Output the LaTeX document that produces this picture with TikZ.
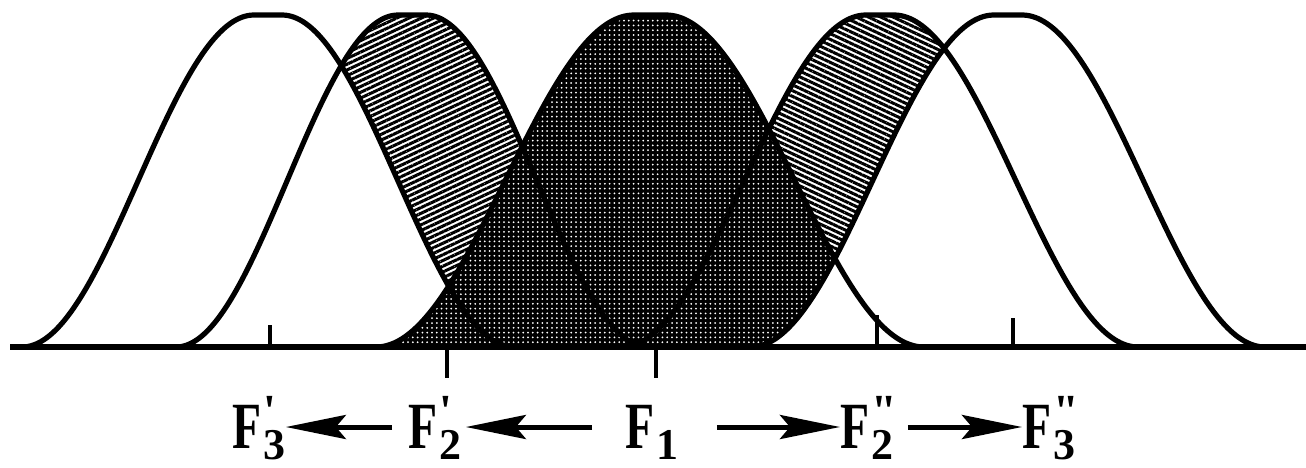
\documentclass[tikz,border=0pt]{standalone}
\usepackage{fontspec}
\usepackage{graphicx}
\setmainfont{Liberation Serif}
\newfontfamily\lblfont{Liberation Serif}[Ligatures=TeXOff]
\usetikzlibrary{patterns.meta,arrows.meta}
% flat-topped raised-cosine bell: centre, half-width, flat half-width (pixel units, y downwards, axis at 347)
\newcommand{\bell}[3]{plot[domain=#1-#2:#1+#2,samples=180] (\x,{347-166*(1+cos(180*(max(0,abs(\x-#1)-#3)/(#2-#3))))})}
\newcommand{\flab}[2]{{\lblfont\bfseries\scalebox{0.72}[1]{\fontsize{33}{33}\selectfont F}\kern1pt\rlap{\raisebox{11pt}{\fontsize{23}{23}\selectfont #1}}\raisebox{-5.5pt}{\fontsize{22}{22}\selectfont #2}}}
\begin{document}
\begin{tikzpicture}[x=0.5pt,y=-0.5pt,
  curve/.style={line width=2.6pt,line join=round},
  hatchL/.style={pattern={Lines[angle=25,distance=2.6pt,line width=1.5pt]}},
  hatchR/.style={pattern={Lines[angle=-25,distance=2.6pt,line width=1.5pt]}},
  darkfill/.style={preaction={fill=black},pattern={Dots[distance=2.4pt,radius=0.5pt]},pattern color=white},
  lbl/.style={anchor=base west,inner sep=0pt,text height=21pt,text depth=0pt},
  arr/.style={line width=2.5pt,-{Stealth[length=30pt,width=12pt,inset=5pt]}},
  tickmark/.style={line width=1.6pt}]
\useasboundingbox (0,0) rectangle (1306,467);
% region fills
\path[hatchL] \bell{412}{236}{14} -- cycle;
\path[hatchR] \bell{880}{258}{14} -- cycle;
\fill[white] \bell{268}{246}{14} -- cycle;
\path[darkfill] \bell{650}{274}{16} -- cycle;
\fill[white] \bell{1008}{257}{14} -- cycle;
% outlines
\draw[curve] \bell{268}{246}{14};
\draw[curve] \bell{412}{236}{14};
\draw[curve] \bell{650}{274}{16};
\draw[curve] \bell{880}{258}{14};
\draw[curve] \bell{1008}{257}{14};
% axis and ticks
\draw[line width=3pt] (10,347) -- (1306,347);
\draw[tickmark] (270,347) -- (270,325);
\draw[tickmark] (877,347) -- (877,315);
\draw[tickmark] (1013,347) -- (1013,318);
\draw[tickmark] (447,347) -- (447,378);
\draw[tickmark] (656,347) -- (656,378);
% labels
\node[lbl] (F3p) at (232,448) {\flab{'}{3}};
\node[lbl] (F2p) at (408,448) {\flab{'}{2}};
\node[lbl] (F1) at (625,448) {\flab{}{1}};
\node[lbl] (F2pp) at (840,448) {\flab{"}{2}};
\node[lbl] (F3pp) at (1022,448) {\flab{"}{3}};
% arrows
\draw[arr,shorten <=16.5pt,shorten >=2pt] (F1.west) -- (F2p.east);
\draw[arr,shorten <=8pt] (F2p.west) -- (F3p.east);
\draw[arr,shorten <=19pt] (F1.east) -- (F2pp.west);
\draw[arr,shorten <=7pt] (F2pp.east) -- (F3pp.west);
\end{tikzpicture}
\end{document}
